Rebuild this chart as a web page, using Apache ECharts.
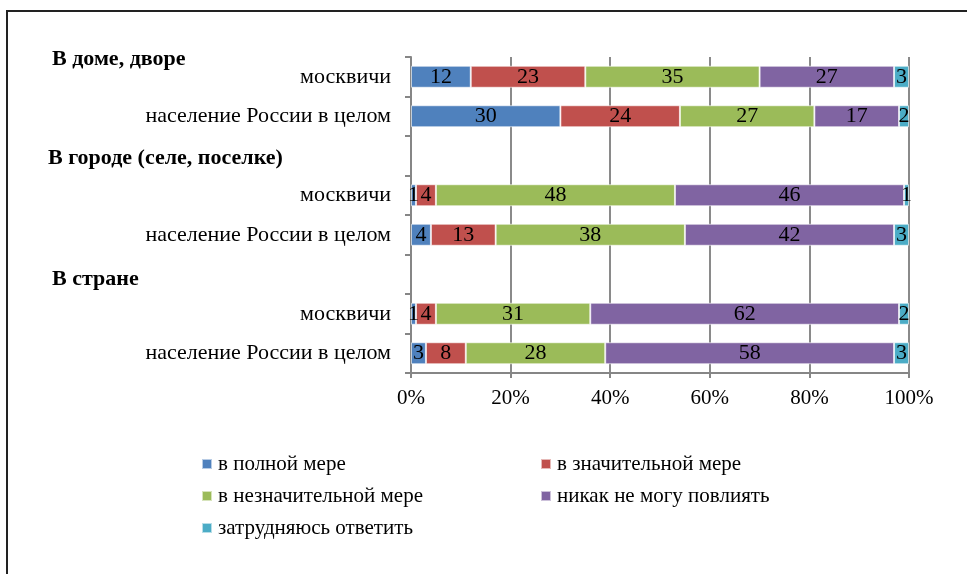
<!DOCTYPE html>
<html>
<head>
<meta charset="utf-8">
<script src="https://cdn.jsdelivr.net/npm/echarts@6/dist/echarts.min.js"></script>
<style>
  html, body { margin: 0; padding: 0; background: #fff; overflow: hidden; }
  #frame { position: absolute; left: 6px; top: 10px; width: 1000px; height: 600px; border-left: 2px solid #222; border-top: 2px solid #222; }
  #chart { position: absolute; left: 0; top: 0; width: 967px; height: 574px; }
</style>
</head>
<body>
<div id="frame"></div>
<div id="chart"></div>
<script>
// rows from bottom to top; blank names = header rows without bars
var categories = ['население России в целом', 'москвичи', '', 'население России в целом ', 'москвичи ', ' ', 'население России в целом  ', 'москвичи  '];
var seriesNames = ['в полной мере', 'в значительной мере', 'в незначительной мере', 'никак не могу повлиять', 'затрудняюсь ответить'];
var fullMeasure   = [3, 1, '-', 4, 1, '-', 30, 12];
var significant   = [8, 4, '-', 13, 4, '-', 24, 23];
var insignificant = [28, 31, '-', 38, 48, '-', 27, 35];
var cannotAffect  = [58, 62, '-', 42, 46, '-', 17, 27];
var hardToSay     = [3, 2, '-', 3, 1, '-', 2, 3];
var xTicks = ['0%', '20%', '40%', '60%', '80%', '100%'];
var colors = ['#4F81BD', '#C0504D', '#9BBB59', '#8064A2', '#4BACC6'];

var values = [fullMeasure, significant, insignificant, cannotAffect, hardToSay];
var font = '"Liberation Serif", "Times New Roman", serif';

var chart = echarts.init(document.getElementById('chart'));
var option = {
    animation: false,
    color: colors,
    textStyle: { fontFamily: font },
    grid: { left: 411, right: 58, top: 57, bottom: 201, containLabel: false },
    xAxis: {
        type: 'value',
        min: 0,
        max: 100,
        interval: 20,
        axisLine: { show: true, lineStyle: { color: '#868686', width: 2 } },
        axisTick: { show: true, length: 5, lineStyle: { color: '#868686', width: 2 } },
        axisLabel: {
            color: '#000', fontSize: 21, fontFamily: font, margin: 15,
            formatter: function (v) { return xTicks[v / 20]; }
        },
        splitLine: { show: true, lineStyle: { color: '#8a8a8a', width: 2 } }
    },
    yAxis: {
        type: 'category',
        data: categories,
        axisLine: { show: true, lineStyle: { color: '#868686', width: 2 } },
        axisTick: { show: true, inside: false, length: 6, lineStyle: { color: '#868686', width: 2 } },
        axisLabel: { color: '#000', fontSize: 22, fontFamily: font, margin: 20, formatter: function (v) { return v.trim(); } },
        splitLine: { show: false }
    },
    legend: {
        left: 201,
        top: 448,
        padding: 0,
        width: 720,
        orient: 'horizontal',
        itemWidth: 10,
        itemHeight: 10,
        itemGap: 0,
        icon: 'rect',
        data: seriesNames,
        textStyle: { color: '#000', fontSize: 21, fontFamily: font, width: 322, lineHeight: 32, padding: [0, 0, 0, 1] }
    },
    graphic: [
        { type: 'text', left: 52, top: 48, style: { text: 'В доме, дворе', font: 'bold 22px ' + font, fill: '#000' } },
        { type: 'text', left: 48, top: 147, style: { text: 'В городе (селе, поселке)', font: 'bold 22px ' + font, fill: '#000' } },
        { type: 'text', left: 52, top: 268, style: { text: 'В стране', font: 'bold 22px ' + font, fill: '#000' } }
    ],
    series: seriesNames.map(function (name, i) {
        return {
            name: name,
            type: 'bar',
            stack: 'total',
            barWidth: 22,
            data: values[i],
            itemStyle: { color: colors[i], borderColor: 'rgba(255,255,255,0.6)', borderWidth: 1 },
            label: { show: true, position: 'inside', color: '#000', fontSize: 22, fontFamily: font },
            emphasis: { disabled: true }
        };
    })
};
chart.setOption(option);
</script>
</body>
</html>
